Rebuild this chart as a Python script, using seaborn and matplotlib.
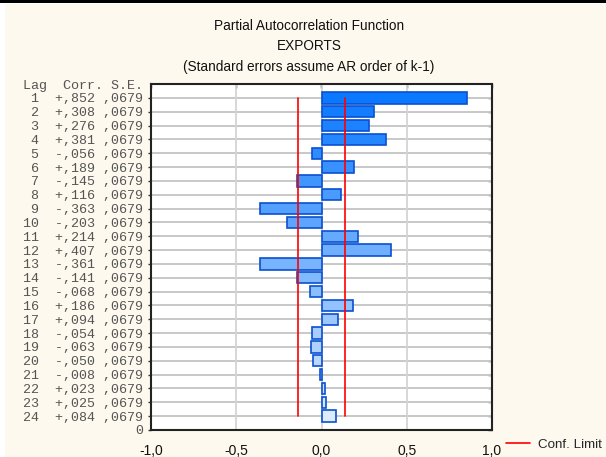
import matplotlib
matplotlib.use("Agg")
import matplotlib.pyplot as plt
from matplotlib.colors import LinearSegmentedColormap, to_hex
from matplotlib.lines import Line2D
from matplotlib.patches import Rectangle
import seaborn as sns
import pandas as pd
import numpy as np

# ---- data ----
lags = list(range(1, 25))
corr = [0.852, 0.308, 0.276, 0.381, -0.056, 0.189, -0.145, 0.116, -0.363, -0.203,
        0.214, 0.407, -0.361, -0.141, -0.068, 0.186, 0.094, -0.054, -0.063, -0.050,
        -0.008, 0.023, 0.025, 0.084]
se = [0.0679] * 24
xticks = [-1.0, -0.5, 0.0, 0.5, 1.0]
title_lines = ["Partial Autocorrelation Function", "EXPORTS",
               "(Standard errors assume AR order of k-1)"]

n = len(lags)
df = pd.DataFrame({"lag": [str(l) for l in lags], "corr": corr,
                   "pos": [n + 1 - l for l in lags]})

cmap = LinearSegmentedColormap.from_list("g", ["#0A78FF", "#DDEBFC"])
palette = {str(l): to_hex(cmap(i / (n - 1))) for i, l in enumerate(lags)}

sns.set_theme(style="white")
plt.rcParams["font.family"] = ["Liberation Sans", "DejaVu Sans"]

fig = plt.figure(figsize=(6.06, 4.57), dpi=100, facecolor="white")
fig.patches.append(Rectangle((5 / 606, 0), 1, 1 - 4 / 457, transform=fig.transFigure,
                             facecolor="#FEF9EE", edgecolor="none", zorder=-10))
fig.patches.append(Rectangle((0, 1 - 3 / 457), 1, 3 / 457, transform=fig.transFigure,
                             facecolor="black", edgecolor="none", zorder=-9))

ax = fig.add_axes([151 / 606, 1 - 430 / 457, 341 / 606, 346 / 457])
ax.set_facecolor("white")

sns.barplot(data=df, x="corr", y="pos", hue="lag", hue_order=df["lag"].tolist(),
            palette=palette, saturation=1, orient="h", native_scale=True, errorbar=None,
            width=0.82, edgecolor="#0A50D0", linewidth=1.2, legend=False,
            dodge=False, ax=ax, zorder=3)

# grid
ax.hlines(df["pos"], -1, 1, colors="#C8C8C8", linewidths=1.4, zorder=1)
ax.vlines(xticks[1:-1], 0, n + 1, colors="#D4D4D4", linewidths=1.3, zorder=1)

# confidence limits
lim = 2 * np.array(se)
ax.plot(lim, df["pos"], color="red", lw=1.2, zorder=4)
ax.plot(-lim, df["pos"], color="red", lw=1.2, zorder=4)

ax.set_xlim(-1, 1)
ax.set_ylim(0, n + 1)

ax.set_xticks(xticks)
ax.set_xticklabels([f"{v:.1f}".replace(".", ",").replace("-0,0", "0,0") for v in xticks],
                   fontsize=10)
yt = [0] + df["pos"].tolist()
ylab = ["0"] + [f"{l:>2}  {'+' if c >= 0 else '-'},{int(round(abs(c) * 1000)):03d} ,{int(round(s * 10000)):04d}"
                for l, c, s in zip(lags, corr, se)]
ax.set_yticks(yt)
ax.set_yticklabels(ylab, fontsize=9.6, family="Liberation Mono", color="#555555")
ax.set_xlabel("")
ax.set_ylabel("")
ax.grid(False)

ax.tick_params(axis="y", direction="out", length=2.5, width=1, pad=3, color="#333333", left=True)
ax.tick_params(axis="x", bottom=False, pad=4, labelcolor="#111111")

for sp in ax.spines.values():
    sp.set_visible(True)
    sp.set_color("#222222")
    sp.set_linewidth(1.5)

sy = ax.secondary_yaxis("right")
sy.set_yticks(yt)
sy.set_yticklabels([])
sy.tick_params(direction="in", length=3, width=1, color="#333333")
sy.spines["right"].set_visible(False)
sx = ax.secondary_xaxis("top")
sx.set_xticks(xticks)
sx.set_xticklabels([])
sx.tick_params(direction="in", length=3, width=1, color="#333333")
sx.spines["top"].set_visible(False)

# header for table
fig.text(143 / 606, 1 - 86 / 457, "Lag  Corr. S.E.", ha="right", va="center",
         family="Liberation Mono", fontsize=9.6, color="#555555")

# titles
for y, t in zip([26, 46, 67], title_lines):
    fig.text(309 / 606, 1 - y / 457, t, ha="center", va="center",
             fontsize=9.8, color="#111111")

fig.legend(handles=[Line2D([], [], color="red", lw=1.2)], labels=["Conf. Limit"],
           loc="center left", bbox_to_anchor=(506 / 606, 1 - 445 / 457), frameon=False,
           handlelength=1.8, handletextpad=0.6, fontsize=9.6, borderpad=0, borderaxespad=0)

fig.savefig("out.png", dpi=100, facecolor=fig.get_facecolor())
